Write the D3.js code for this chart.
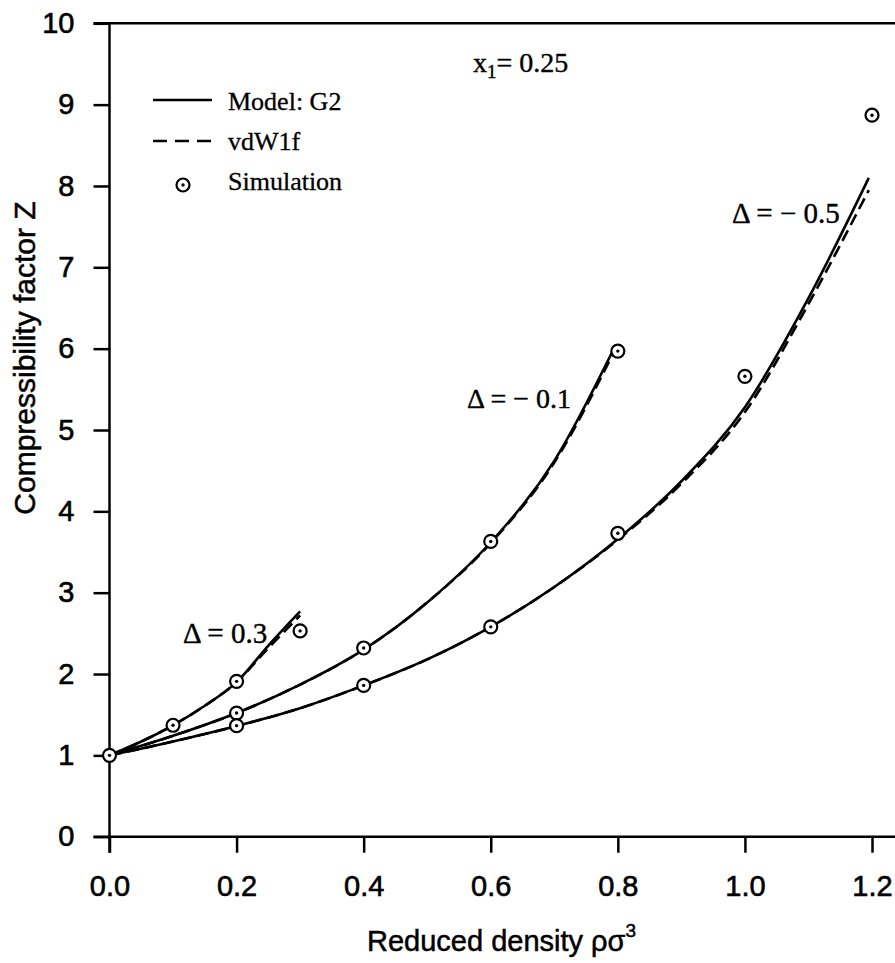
<!DOCTYPE html>
<html>
<head>
<meta charset="utf-8">
<script src="https://cdn.jsdelivr.net/npm/d3@7"></script>
<style>
  body { margin: 0; background: #fff; }
  svg { display: block; }
</style>
</head>
<body>
<svg id="chart" width="895" height="963"></svg>
<script>
// ---- Axis ticks ----
const xTicks = [0, 0.2, 0.4, 0.6, 0.8, 1.0, 1.2];
const yTicks = [0, 1, 2, 3, 4, 5, 6, 7, 8, 9, 10];

// ---- Model curves, Δ = 0.3 ----
const rhoD03 = [0, 0.05, 0.1, 0.15, 0.2, 0.25, 0.3];
const g2D03  = [1, 1.17, 1.37, 1.61, 1.90, 2.35, 2.77];
const vdwD03 = [1, 1.17, 1.37, 1.61, 1.90, 2.32, 2.72];

// ---- Model curves, Δ = -0.1 ----
const rhoDm01 = [0, 0.1, 0.2, 0.3, 0.4, 0.5, 0.6, 0.7, 0.795];
const g2Dm01  = [1, 1.24, 1.52, 1.87, 2.30, 2.88, 3.62, 4.62, 6.02];
const vdwDm01 = [1, 1.24, 1.52, 1.87, 2.30, 2.88, 3.61, 4.60, 5.98];

// ---- Model curves, Δ = -0.5 ----
const rhoDm05 = [0, 0.1, 0.2, 0.3, 0.4, 0.5, 0.6, 0.7, 0.8, 0.9, 1.0, 1.1, 1.195];
const g2Dm05  = [1, 1.17, 1.36, 1.58, 1.86, 2.18, 2.58, 3.07, 3.66, 4.37, 5.28, 6.62, 8.10];
const vdwDm05 = [1, 1.17, 1.36, 1.58, 1.86, 2.18, 2.58, 3.07, 3.65, 4.34, 5.22, 6.55, 7.95];

// ---- Simulation points ----
const simRhoD03  = [0, 0.1, 0.2, 0.3];
const simZD03    = [1, 1.37, 1.91, 2.53];
const simRhoDm01 = [0.2, 0.4, 0.6, 0.8];
const simZDm01   = [1.52, 2.32, 3.63, 5.97];
const simRhoDm05 = [0.2, 0.4, 0.6, 0.8, 1.0, 1.2];
const simZDm05   = [1.365, 1.86, 2.58, 3.73, 5.66, 8.87];

const W = 895, H = 963;
const svg = d3.select("#chart");

const x = d3.scaleLinear().domain([0, 1.2]).range([109.5, 872]);
const y = d3.scaleLinear().domain([0, 10]).range([836.7, 23.3]);

const sansFont = "'Liberation Sans', Arial, sans-serif";
const serifFont = "'Liberation Serif', 'Times New Roman', serif";
const tickLen = 16;

// ---- Frame lines ----
const frame = svg.append("g").attr("stroke", "#000").attr("stroke-width", 2.5).attr("fill", "none");
frame.append("line").attr("x1", x(0)).attr("x2", x(0)).attr("y1", y(10)).attr("y2", y(0) + tickLen);
frame.append("line").attr("x1", x(0) - tickLen).attr("x2", W).attr("y1", y(0)).attr("y2", y(0));
frame.append("line").attr("x1", x(0) - tickLen).attr("x2", W).attr("y1", y(10)).attr("y2", y(10));

// ---- Axes ----
const xAxis = svg.append("g")
  .attr("transform", `translate(0,${y(0)})`)
  .call(d3.axisBottom(x).tickValues(xTicks).tickFormat(d3.format(".1f"))
    .tickSize(tickLen).tickPadding(23));
const yAxis = svg.append("g")
  .attr("transform", `translate(${x(0)},0)`)
  .call(d3.axisLeft(y).tickValues(yTicks).tickFormat(d3.format("d"))
    .tickSize(tickLen).tickPadding(19));

[xAxis, yAxis].forEach(g => {
  g.select(".domain").remove();
  g.selectAll(".tick line").attr("stroke", "#000").attr("stroke-width", 2.5);
  g.selectAll(".tick text").attr("fill", "#000")
    .attr("stroke", "#000").attr("stroke-width", 0.6)
    .style("font-family", sansFont).style("font-size", "29px");
});

// ---- Axis titles ----
const xTitle = svg.append("text")
  .attr("x", 367).attr("y", 951)
  .attr("stroke", "#000").attr("stroke-width", 0.5)
  .style("font-family", sansFont).style("font-size", "29px").attr("fill", "#000");
xTitle.append("tspan").text("Reduced density ρσ");
xTitle.append("tspan").attr("dy", -14).style("font-size", "19px").text("3");

svg.append("text")
  .attr("transform", `translate(35,358) rotate(-90)`)
  .attr("text-anchor", "middle")
  .attr("stroke", "#000").attr("stroke-width", 0.5)
  .style("font-family", sansFont).style("font-size", "30px").attr("fill", "#000")
  .text("Compressibility factor Z");

// ---- Curves ----
const line = d3.line().x(d => x(d[0])).y(d => y(d[1])).curve(d3.curveMonotoneX);
const curves = svg.append("g").attr("fill", "none").attr("stroke", "#000").attr("stroke-width", 2.6);

const series = [
  { rho: rhoD03, g2: g2D03, vdw: vdwD03 },
  { rho: rhoDm01, g2: g2Dm01, vdw: vdwDm01 },
  { rho: rhoDm05, g2: g2Dm05, vdw: vdwDm05 }
];
series.forEach(s => {
  curves.append("path")
    .attr("d", line(d3.zip(s.rho, s.vdw)))
    .attr("stroke-dasharray", "12,6");
  curves.append("path")
    .attr("d", line(d3.zip(s.rho, s.g2)));
});

// ---- Simulation markers ----
function marker(g, cx, cy) {
  g.append("circle").attr("cx", cx).attr("cy", cy).attr("r", 6.5)
    .attr("fill", "#fff").attr("stroke", "#000").attr("stroke-width", 2.2);
  g.append("circle").attr("cx", cx).attr("cy", cy).attr("r", 1.7).attr("fill", "#000");
}
const pts = svg.append("g");
[[simRhoD03, simZD03], [simRhoDm01, simZDm01], [simRhoDm05, simZDm05]].forEach(([r, z]) => {
  d3.zip(r, z).forEach(d => marker(pts, x(d[0]), y(d[1])));
});

// ---- Curve labels ----
function serifLabel(px, py, size) {
  return svg.append("text").attr("x", px).attr("y", py)
    .attr("stroke", "#000").attr("stroke-width", 0.4)
    .style("font-family", serifFont).style("font-size", size + "px").attr("fill", "#000");
}
serifLabel(183, 643, 29).text("Δ = 0.3");
serifLabel(467, 408, 28).text("Δ = − 0.1");
serifLabel(732, 223, 29).text("Δ = − 0.5");

const xl = serifLabel(473, 72, 28);
xl.append("tspan").text("x");
xl.append("tspan").attr("dy", 6).style("font-size", "19px").text("1");
xl.append("tspan").attr("dy", -6).text("= 0.25");

// ---- Legend ----
const legend = svg.append("g");
legend.append("line").attr("x1", 153).attr("x2", 212).attr("y1", 100).attr("y2", 100)
  .attr("stroke", "#000").attr("stroke-width", 2.5);
legend.append("line").attr("x1", 153).attr("x2", 212).attr("y1", 141).attr("y2", 141)
  .attr("stroke", "#000").attr("stroke-width", 2.5).attr("stroke-dasharray", "14,8");
marker(legend, 183, 185);
const legendText = ["Model: G2", "vdW1f", "Simulation"];
legendText.forEach((t, i) => {
  legend.append("text").attr("x", 228).attr("y", 110 + i * 40)
    .attr("stroke", "#000").attr("stroke-width", 0.3)
    .style("font-family", serifFont).style("font-size", "26px").attr("fill", "#000").text(t);
});
</script>
</body>
</html>
